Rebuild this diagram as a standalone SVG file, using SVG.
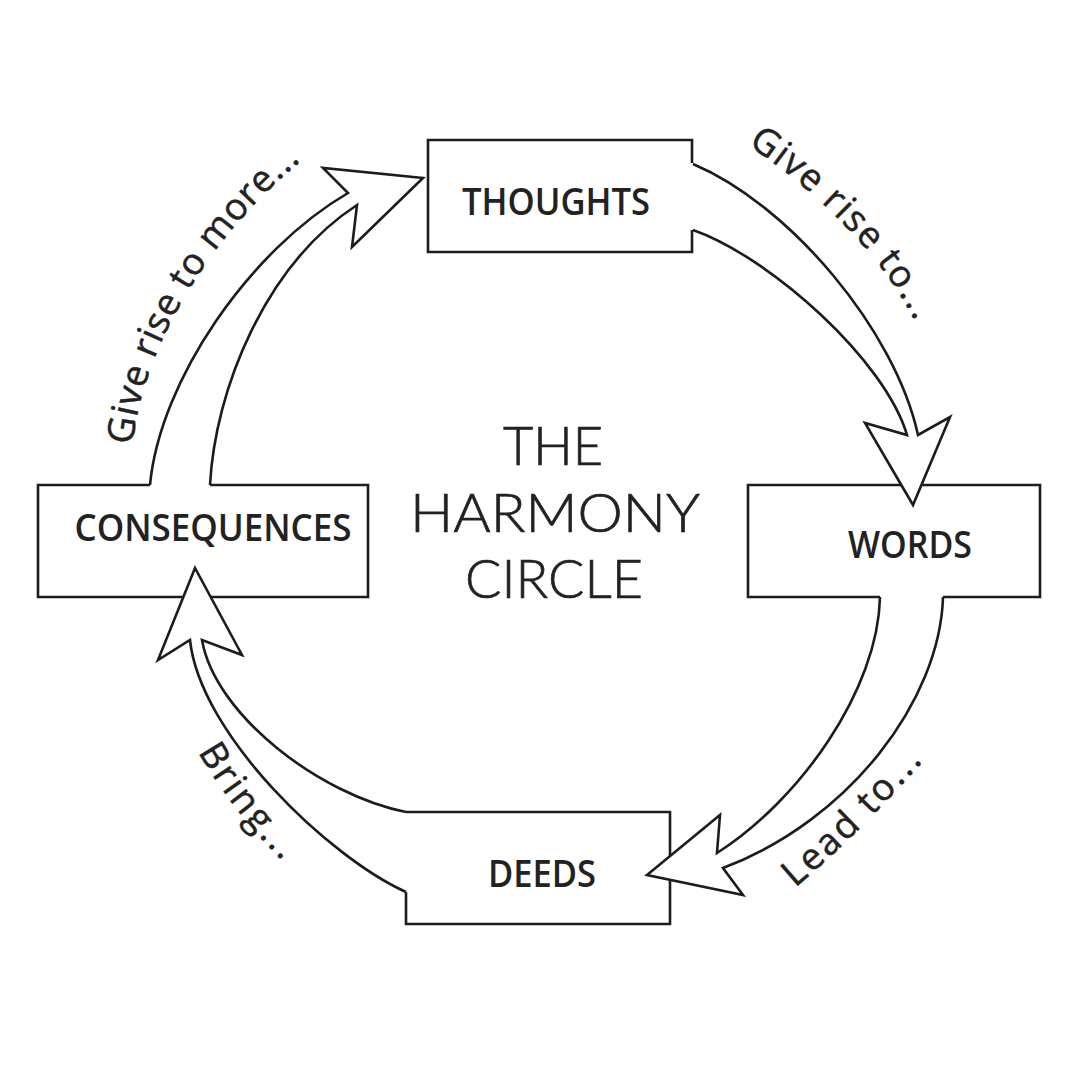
<svg xmlns="http://www.w3.org/2000/svg" width="1080" height="1080" viewBox="0 0 1080 1080">
<style>
.box{fill:none;stroke:#1c1c1c;stroke-width:2.6;stroke-linejoin:miter}
.arrow{fill:#ffffff;stroke:#1c1c1c;stroke-width:2.6;stroke-linejoin:miter}
.lbl{font-family:"Open Sans","Noto Sans",sans-serif;font-weight:600;font-size:38px;fill:#222;text-anchor:middle}
.title{font-family:Lato,"Open Sans",sans-serif;font-weight:300;font-size:54px;fill:#222;stroke:#222;stroke-width:0.7;text-anchor:middle}
.cap{font-family:"Open Sans","Noto Sans",sans-serif;font-size:37px;fill:#222;stroke:#222;stroke-width:0.5}
</style>
<defs>
<path id="p1" d="M748,145 C800,180 880,245 922,335"/>
<path id="p2" d="M133,445 C140,360 200,240 312,152"/>
<path id="p3" d="M795,888 C840,850 890,800 937,745"/>
<path id="p4" d="M198,752 C220,790 250,830 292,870"/>
</defs>
<rect width="1080" height="1080" fill="#ffffff"/>
<g id="thoughts">
<path class="box" d="M692,163 V140 H428 V252 H692 V230"/>
<text class="lbl" x="556" y="215" textLength="188" lengthAdjust="spacingAndGlyphs">THOUGHTS</text>
</g>
<g id="words">
<path class="box" d="M880,597 H748 V485 H1040 V597 H943"/>
<text class="lbl" x="910" y="558" textLength="124" lengthAdjust="spacingAndGlyphs">WORDS</text>
</g>
<g id="deeds">
<path class="box" d="M406,812 H670 V924 H406 V892"/>
<text class="lbl" x="542" y="887" textLength="108" lengthAdjust="spacingAndGlyphs">DEEDS</text>
</g>
<g id="consequences">
<path class="box" d="M150,485 H38 V597 H368 V485 H210"/>
<text class="lbl" x="213" y="541" textLength="277" lengthAdjust="spacingAndGlyphs">CONSEQUENCES</text>
</g>
<g id="title">
<text class="title" x="553" y="465" textLength="100" lengthAdjust="spacingAndGlyphs">THE</text>
<text class="title" x="555" y="532" textLength="290" lengthAdjust="spacingAndGlyphs">HARMONY</text>
<text class="title" x="554" y="598" textLength="178" lengthAdjust="spacingAndGlyphs">CIRCLE</text>
</g>
<g id="connectors">
<path class="arrow" d="M693,164 C790,205 895,330 918,435 L950,417 L913,505 L865,423 L907,435 C885,360 770,257 693,230"/>
<path class="arrow" d="M943,597 C940,700 850,820 723,868 L743,895 L647,875 L720,815 L717,853 C800,800 878,690 880,597"/>
<path class="arrow" d="M406,892 C330,858 200,735 190,640 L158,660 L195,568 L242,655 L202,640 C215,715 320,795 406,812"/>
<path class="arrow" d="M150,485 C160,380 250,250 348,193 L323,168 L423,178 L352,247 L357,205 C265,265 215,390 210,485"/>
<text class="cap"><textPath href="#p1" textLength="245" lengthAdjust="spacing">Give rise to...</textPath></text>
<text class="cap"><textPath href="#p2" textLength="338" lengthAdjust="spacing">Give rise to more...</textPath></text>
<text class="cap"><textPath href="#p3" textLength="180" lengthAdjust="spacing">Lead to...</textPath></text>
<text class="cap"><textPath href="#p4" textLength="138" lengthAdjust="spacing">Bring...</textPath></text>
</g>
</svg>
